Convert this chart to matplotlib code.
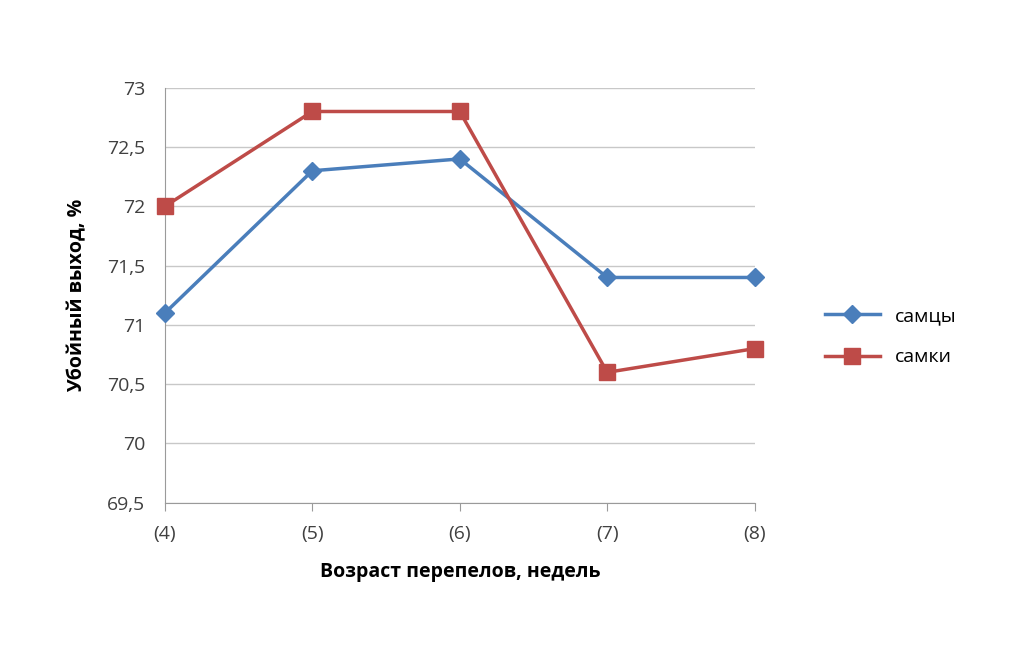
import matplotlib.pyplot as plt
from matplotlib.ticker import FuncFormatter

# --- data ---
weeks = ["(4)", "(5)", "(6)", "(7)", "(8)"]
males = [71.1, 72.3, 72.4, 71.4, 71.4]
females = [72.0, 72.8, 72.8, 70.6, 70.8]

plt.rcParams["font.family"] = "Open Sans"

fig = plt.figure(figsize=(10.24, 6.65), dpi=100)
ax = fig.add_axes([0.161, 0.244, 0.576, 0.624])

x = range(len(weeks))
ax.plot(x, males, color="#4a7ebb", lw=2.5, marker="D", ms=9, label="самцы", clip_on=False, zorder=3)
ax.plot(x, females, color="#be4b48", lw=2.5, marker="s", ms=11, label="самки", clip_on=False, zorder=3)

ax.set_xlim(0, len(weeks) - 1)
ax.set_ylim(69.5, 73)
ax.set_yticks([69.5 + 0.5 * i for i in range(8)])
ax.yaxis.set_major_formatter(FuncFormatter(lambda v, p: f"{v:g}".replace(".", ",")))
ax.set_xticks(list(x))
ax.set_xticklabels(weeks)
ax.grid(axis="y", color="#c8c8c8", lw=1)
ax.set_axisbelow(True)

for s in ["top", "right"]:
    ax.spines[s].set_visible(False)
for s in ["left", "bottom"]:
    ax.spines[s].set_color("#9a9a9a")
ax.tick_params(axis="y", length=0, labelsize=14, colors="#404040", pad=14)
ax.tick_params(axis="x", length=6, color="#9a9a9a", labelsize=14, colors="#404040", pad=10)

ax.set_ylabel("Убойный выход, %", fontsize=14, fontweight="bold", labelpad=14)
ax.set_xlabel("Возраст перепелов, недель", fontsize=14, fontweight="bold", labelpad=14)

ax.legend(loc="center left", bbox_to_anchor=(1.09, 0.4), frameon=False,
          fontsize=14, labelspacing=1.2, handlelength=2.8)

fig.savefig("out.png", dpi=100)
